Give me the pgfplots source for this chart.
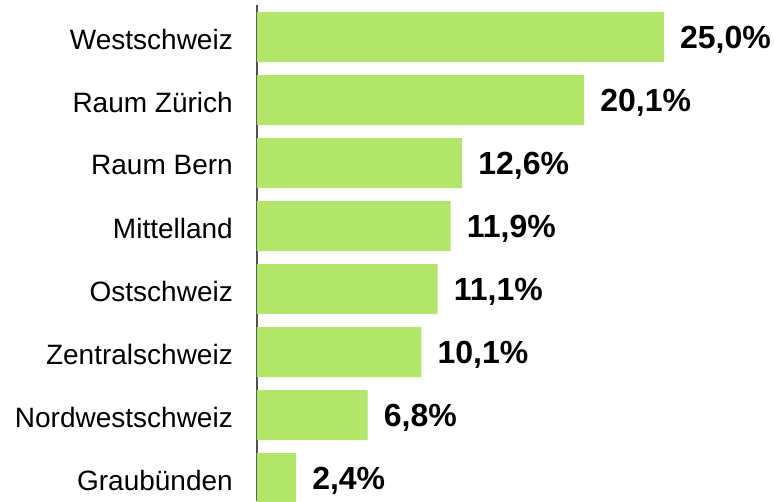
\documentclass[border=0pt]{standalone}
\usepackage{fontspec}
\setmainfont{Liberation Sans}
\usepackage{pgfplots}
\pgfplotsset{compat=1.18}
\definecolor{barg}{RGB}{179,229,107}
\definecolor{axg}{RGB}{80,80,80}

\begin{document}
\begin{tikzpicture}
  \begin{axis}[
      name = ax,
      scale only axis,
      width  = 517pt,
      height = 496pt,
      xbar,
      bar width = 50pt,
      xmin = 0, xmax = 31.76,
      ymin = -0.365, ymax = 7.508,
      axis x line = none,
      axis y line* = left,
      axis line style = {axg, line width=1.5pt},
      ytick = {0,...,7},
      yticklabels = {Graubünden, Nordwestschweiz, Zentralschweiz, Ostschweiz,
                     Mittelland, Raum Bern, Raum Zürich, Westschweiz},
      major tick length = 0pt,
      yticklabel style = {font=\fontsize{28}{32}\selectfont, anchor=east,
                          inner sep=0pt, xshift=-24pt, yshift=-2pt},
      point meta = explicit symbolic,
      nodes near coords,
      nodes near coords style = {font=\fontsize{32}{37}\selectfont\bfseries,
                                 anchor=west, inner sep=0pt, xshift=16pt, yshift=-3pt},
    ]
    \addplot[fill=barg, draw=none] coordinates {
      (2.4,0)  [2,4\%]
      (6.8,1)  [6,8\%]
      (10.1,2) [10,1\%]
      (11.1,3) [11,1\%]
      (11.9,4) [11,9\%]
      (12.6,5) [12,6\%]
      (20.1,6) [20,1\%]
      (25.0,7) [25,0\%]
    };
  \end{axis}
  % picture frame as in the reference
  \useasboundingbox ([xshift=-257pt,yshift=5pt]ax.north west) rectangle (ax.south east);
\end{tikzpicture}
\end{document}
